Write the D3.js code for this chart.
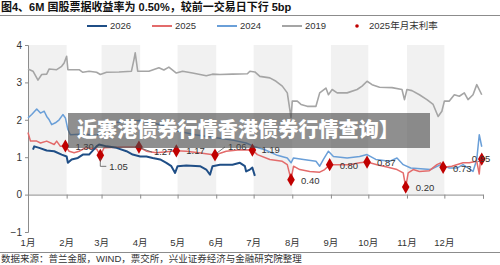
<!DOCTYPE html>
<html>
<head>
<meta charset="utf-8">
<script src="https://cdn.jsdelivr.net/npm/d3@7"></script>
<style>
  body { margin: 0; background: #fff; }
  svg text { font-family: "Liberation Sans", Arial, "Noto Sans CJK SC", sans-serif; }
</style>
</head>
<body>
<div id="chart"></div>
<script>
// title / footer
var titleText = "图4、6M 国股票据收益率为 0.50%，较前一交易日下行 5bp";
var sourceText = "数据来源：普兰金服，WIND，票交所，兴业证券经济与金融研究院整理";
var bannerText = "近寨港债券行情香港债券行情查询】";

var monthLabels = ["1月","2月","3月","4月","5月","6月","7月","8月","9月","10月","11月","12月"];
var yTicks = [-1, 0, 1, 2, 3, 4];

// 2026
var dates2026 = ["01-05","01-06","01-10","01-16","01-22","01-28","02-01","02-02","02-05","02-10","02-14","02-19","02-25","02-27","03-05","03-13","03-21","03-26","04-01","04-06","04-11","04-17","04-22","04-26","04-29","05-01","05-08","05-19","05-24","05-27","05-29","06-04","06-14","06-20","06-24","06-25","06-28","06-30","07-02"];
var vals2026  = [1.20,1.29,1.25,1.18,1.16,1.07,1.02,0.85,0.94,0.98,1.07,1.07,1.29,1.34,1.29,1.25,1.16,1.07,1.02,1.02,0.98,0.94,0.85,0.76,0.58,0.76,0.78,0.76,0.67,0.53,0.76,0.80,0.80,0.85,0.76,0.62,0.67,0.72,0.50];

// 2025
var dates2025 = ["01-01","01-03","01-08","01-11","01-16","01-22","01-24","01-27","01-31","02-03","02-07","02-11","02-16","02-25","02-28","03-03","03-19","03-31","04-06","04-14","04-30","05-08","05-18","05-31","06-09","06-20","06-30","07-04","07-14","07-24","07-28","07-31","08-02","08-07","08-15","08-23","08-27","08-31","09-08","09-16","09-24","09-30","10-08","10-16","10-24","10-29","10-31","11-02","11-06","11-11","11-19","11-25","11-28","11-30","12-07","12-16","12-21","12-27","12-29","12-30","12-31"];
var vals2025  = [1.66,1.43,1.43,1.38,1.43,1.34,1.43,1.29,1.30,1.16,1.12,1.16,1.25,1.22,1.05,1.25,1.27,1.27,1.16,1.12,1.17,1.16,1.12,1.06,1.16,1.20,1.19,1.07,0.94,0.89,0.80,0.40,0.76,0.67,0.62,0.60,0.67,0.80,0.80,0.80,0.85,0.87,0.80,0.74,0.67,0.58,0.20,0.58,0.67,0.62,0.64,0.80,0.85,0.73,0.76,0.85,0.85,0.89,0.55,0.95,0.95];

// 2024
var dates2024 = ["01-01","01-04","01-08","01-11","01-14","01-16","01-18","01-20","01-23","01-26","01-29","01-31","02-02","02-04","02-15","02-25","03-01","03-08","03-20","04-01","04-10","04-20","05-01","05-15","06-01","06-15","06-25","07-02","07-10","07-20","07-28","07-31","08-02","08-10","08-20","08-23","08-26","08-30","09-03","09-14","09-24","09-30","10-07","10-18","10-24","10-29","11-04","11-20","11-28","12-05","12-11","12-16","12-24","12-27","12-29","12-31"];
var vals2024  = [2.05,2.14,2.29,2.18,2.23,2.09,2.00,1.87,1.92,2.00,2.14,2.05,1.74,1.60,1.62,1.58,1.70,1.92,1.95,1.98,1.92,1.85,1.70,1.60,1.52,1.45,1.38,1.28,1.20,1.05,0.98,0.85,0.98,0.94,0.89,0.76,0.94,1.16,1.02,0.98,1.02,1.07,0.94,0.89,0.98,0.80,0.71,0.67,0.80,0.71,0.71,0.80,0.62,0.94,1.60,1.28];

// 2019
var dates2019 = ["01-01","01-05","01-09","01-12","01-16","01-18","01-24","01-28","01-30","02-01","02-02","02-11","02-14","02-19","02-25","02-28","03-05","03-15","03-25","03-27","03-28","03-30","04-08","04-16","04-20","04-24","04-30","05-05","05-13","05-24","05-29","06-04","06-14","06-26","06-28","07-02","07-06","07-14","07-19","07-24","07-28","07-31","08-01","08-05","08-08","08-13","08-20","08-23","08-28","08-30","09-02","09-06","09-14","09-22","09-26","09-30","10-04","10-10","10-20","10-28","10-30","11-01","11-05","11-11","11-17","11-22","11-26","11-29","12-01","12-05","12-09","12-13","12-17","12-20","12-24","12-27","12-31"];
var vals2019  = [3.36,3.30,3.06,3.21,3.22,3.36,3.34,3.43,3.52,3.70,3.34,3.34,3.27,3.30,3.27,3.21,3.27,3.28,3.30,3.61,3.79,3.30,3.30,3.39,3.33,3.41,3.25,3.30,3.25,3.18,3.22,3.21,3.22,3.23,3.30,3.28,3.16,3.12,3.03,2.90,2.72,2.06,2.50,2.50,2.41,2.36,2.36,2.72,2.85,2.67,2.81,2.72,2.72,2.81,2.90,3.03,2.94,2.87,2.86,2.81,2.54,2.81,2.78,2.67,2.54,2.41,2.09,2.23,2.50,2.50,2.67,2.63,2.72,2.54,2.67,2.94,2.67];

// 2025 month-end points
var monthEndDates = ["01-31","02-28","03-31","04-30","05-31","06-30","07-31","08-31","09-30","10-31","11-30","12-31"];
var monthEndVals  = [1.30,1.05,1.27,1.17,1.06,1.19,0.40,0.80,0.87,0.20,0.73,0.95];

var W = 500, H = 265;
var parse = d3.timeParse("%m-%d");
var svg = d3.select("#chart").append("svg").attr("width", W).attr("height", H);

var x = d3.scaleTime().domain([new Date(1900, 0, 1), new Date(1901, 0, 1)]).range([28, 483]);
var y = d3.scaleLinear().domain([-1, 4]).range([232, 45]);

// title
svg.append("text").attr("x", 1).attr("y", 11)
    .attr("font-size", "11px").attr("font-weight", "bold").attr("fill", "#111")
    .text(titleText);
svg.append("line").attr("x1", 0).attr("x2", W).attr("y1", 15.5).attr("y2", 15.5)
    .attr("stroke", "#8c8c8c").attr("stroke-width", 1);

// month shading
var monthStarts = d3.range(12).map(i => new Date(1900, i, 1));
svg.selectAll("rect.band")
    .data(monthStarts.filter((d, i) => i % 2 == 0))
    .enter().append("rect")
    .attr("class", "band")
    .attr("x", d => x(d))
    .attr("width", d => x(d3.timeMonth.offset(d, 1)) - x(d))
    .attr("y", y(4))
    .attr("height", y(0) - y(4))
    .attr("fill", "#f1f1f1");

// y axis
var yAxis = svg.append("g").attr("transform", "translate(28,0)")
    .call(d3.axisLeft(y).tickValues(yTicks).tickSize(3).tickFormat(d3.format("d")));
yAxis.select(".domain").attr("stroke", "#8c8c8c");
yAxis.selectAll(".tick line").attr("stroke", "#8c8c8c");
yAxis.selectAll("text").attr("font-size", "10px").attr("fill", "#333")
    .attr("font-family", "Liberation Sans, Arial, sans-serif");

// x axis on the zero line
var xAxis = svg.append("g").attr("transform", "translate(0," + y(0) + ")")
    .call(d3.axisBottom(x).tickValues(monthStarts.concat([new Date(1901, 0, 1)])).tickSize(4).tickFormat(""));
xAxis.select(".domain").attr("stroke", "#8c8c8c");
xAxis.selectAll(".tick line").attr("stroke", "#8c8c8c");

svg.selectAll("text.month")
    .data(monthStarts)
    .enter().append("text")
    .attr("class", "month")
    .attr("x", d => x(d))
    .attr("y", 246)
    .attr("text-anchor", "middle")
    .attr("font-size", "9.5px")
    .attr("fill", "#333")
    .text((d, i) => monthLabels[i]);

// lines
var series = [
    { name: "2019", dates: dates2019, vals: vals2019, color: "#a5a5a5", w: 1.6 },
    { name: "2024", dates: dates2024, vals: vals2024, color: "#6a9fd8", w: 1.5 },
    { name: "2025", dates: dates2025, vals: vals2025, color: "#e36b6b", w: 1.5 },
    { name: "2026", dates: dates2026, vals: vals2026, color: "#1f4e86", w: 2 }
];
var line = d3.line().x(d => x(d[0])).y(d => y(d[1]));
series.forEach(s => {
    var pts = s.dates.map((d, i) => [parse(d), s.vals[i]]);
    svg.append("path").datum(pts)
        .attr("d", line)
        .attr("fill", "none")
        .attr("stroke", s.color)
        .attr("stroke-width", s.w)
        .attr("stroke-linejoin", "round");
});

// month-end markers
var dots = monthEndDates.map((d, i) => ({ date: parse(d), v: monthEndVals[i] }));
svg.selectAll("path.dot")
    .data(dots)
    .enter().append("path")
    .attr("class", "dot")
    .attr("transform", d => "translate(" + x(d.date) + "," + y(d.v) + ")")
    .attr("d", d3.symbol().type(d3.symbolDiamond).size(50))
    .attr("fill", "#c00000");

// labels: offsets relative to marker
var labelDx = [10, 9, 15, 10, 13, 9, 10, 10, 10, 10, 10, -10];
var labelDy = [1, 11, 5, 0, -8, 0, 1, 1, 1, 1, 1, 0];
var leaders = [null, [[0, 3], [0, 11], [6, 11]], [[2, 1], [13, 5]], null, [[2, -2], [10, -8]], null, null, null, null, null, null, null];

dots.forEach((d, i) => {
    var cx = x(d.date), cy = y(d.v);
    if (leaders[i]) {
        svg.append("path")
            .attr("d", d3.line()(leaders[i].map(p => [cx + p[0], cy + p[1]])))
            .attr("fill", "none").attr("stroke", "#555").attr("stroke-width", 0.8);
    }
    svg.append("text")
        .attr("x", cx + labelDx[i])
        .attr("y", cy + labelDy[i])
        .attr("dy", "0.35em")
        .attr("font-size", "9.5px")
        .attr("fill", "#333")
        .text(d.v.toFixed(2));
});

// legend
var legendItems = [
    { label: "2026", color: "#1f4e86", x: 87 },
    { label: "2025", color: "#e36b6b", x: 152 },
    { label: "2024", color: "#6a9fd8", x: 217 },
    { label: "2019", color: "#a5a5a5", x: 282 }
];
var lg = svg.append("g");
legendItems.forEach(it => {
    lg.append("line").attr("x1", it.x).attr("x2", it.x + 20).attr("y1", 26).attr("y2", 26)
        .attr("stroke", it.color).attr("stroke-width", 2);
    lg.append("text").attr("x", it.x + 23).attr("y", 26).attr("dy", "0.35em")
        .attr("font-size", "9.5px").attr("fill", "#333").text(it.label);
});
lg.append("circle").attr("cx", 357).attr("cy", 26).attr("r", 1.8).attr("fill", "#c00000");
lg.append("text").attr("x", 369).attr("y", 26).attr("dy", "0.35em")
    .attr("font-size", "9.5px").attr("fill", "#333").text("2025年月末利率");

// banner overlay
svg.append("rect").attr("x", 68).attr("y", 113).attr("width", 362).attr("height", 35)
    .attr("fill", "#4a4a4a").attr("opacity", 0.62);
svg.append("text").attr("x", 77).attr("y", 137)
    .attr("font-size", "20px").attr("font-weight", "900").attr("fill", "#fff")
    .attr("font-family", "Noto Sans CJK SC, sans-serif")
    .attr("textLength", 322).attr("lengthAdjust", "spacingAndGlyphs")
    .text(bannerText);

// footer
svg.append("line").attr("x1", 0).attr("x2", W).attr("y1", 252.5).attr("y2", 252.5)
    .attr("stroke", "#8c8c8c").attr("stroke-width", 1);
svg.append("text").attr("x", 1).attr("y", 262)
    .attr("font-size", "9.5px").attr("fill", "#333")
    .text(sourceText);
</script>
</body>
</html>
